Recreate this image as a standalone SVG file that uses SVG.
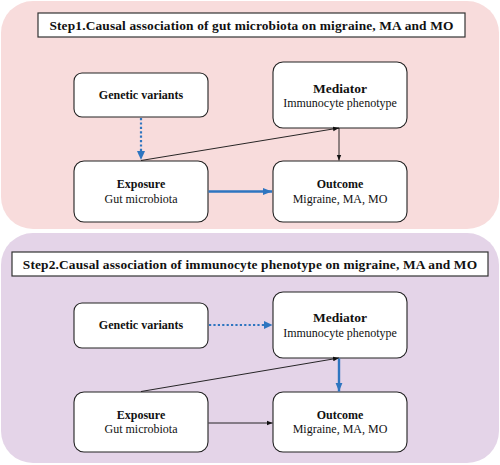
<svg xmlns="http://www.w3.org/2000/svg" width="500" height="465" viewBox="0 0 500 465">
<defs>
<style>
.panel1{fill:#f8dcdc;}
.panel2{fill:#e4d4e8;}
.title{fill:#fff;stroke:#333;stroke-width:1.2;}
.node{fill:#fff;stroke:#222;stroke-width:1.1;}
text{font-family:"Liberation Serif","Times New Roman",serif;fill:#111;text-anchor:middle;}
.tt{font-weight:bold;font-size:13.4px;letter-spacing:0.15px;}
.b{font-weight:bold;font-size:12px;}
.bl{font-weight:bold;font-size:13.5px;}
.r{font-size:12px;}
.thin{stroke:#111;stroke-width:0.9;fill:none;}
.blue{stroke:#2e75c0;stroke-width:2.4;fill:none;}
.dot{stroke:#2e75c0;stroke-width:2.2;stroke-dasharray:2.2 2.2;fill:none;}
</style>
<marker id="ak" viewBox="0 0 10 10" refX="10" refY="5" markerWidth="6" markerHeight="6" markerUnits="userSpaceOnUse" orient="auto"><path d="M0,1 L10,5 L0,9 z" fill="#111"/></marker>
<marker id="ab" viewBox="0 0 10 10" refX="10" refY="5" markerWidth="9" markerHeight="9" markerUnits="userSpaceOnUse" orient="auto"><path d="M0,1 L10,5 L0,9 z" fill="#2e75c0"/></marker>
</defs>
<g id="panel1">
<rect class="panel1" x="1" y="1" width="498" height="228" rx="32"/>
<rect class="title" x="38" y="13" width="427" height="24"/>
<text class="tt" x="251.5" y="29.5">Step1.Causal association of gut microbiota on migraine, MA and MO</text>
</g>
<g id="panel2">
<rect class="panel2" x="1" y="233" width="498" height="230" rx="32"/>
<rect class="title" x="12" y="252" width="476" height="24"/>
<text class="tt" x="250" y="268.5">Step2.Causal association of immunocyte phenotype on migraine, MA and MO</text>
</g>
<g id="s1-genetic"><rect class="node" x="74" y="73" width="134" height="44" rx="8"/><text class="b" x="141" y="99">Genetic variants</text></g>
<g id="s1-mediator"><rect class="node" x="273" y="62" width="134" height="66" rx="10"/><text class="bl" x="340" y="93">Mediator</text><text class="r" x="340" y="107">Immunocyte phenotype</text></g>
<g id="s1-exposure"><rect class="node" x="74" y="161" width="134" height="61" rx="10"/><text class="b" x="141" y="188">Exposure</text><text class="r" x="141" y="203">Gut microbiota</text></g>
<g id="s1-outcome"><rect class="node" x="273" y="161" width="134" height="61" rx="10"/><text class="b" x="340" y="188">Outcome</text><text class="r" x="340" y="203">Migraine, MA, MO</text></g>
<g id="s2-genetic"><rect class="node" x="74" y="303" width="134" height="45" rx="8"/><text class="b" x="141" y="329">Genetic variants</text></g>
<g id="s2-mediator"><rect class="node" x="273" y="292" width="134" height="66" rx="10"/><text class="bl" x="340" y="322">Mediator</text><text class="r" x="340" y="337">Immunocyte phenotype</text></g>
<g id="s2-exposure"><rect class="node" x="74" y="392" width="134" height="60" rx="10"/><text class="b" x="141" y="419">Exposure</text><text class="r" x="141" y="433">Gut microbiota</text></g>
<g id="s2-outcome"><rect class="node" x="273" y="392" width="134" height="60" rx="10"/><text class="b" x="340" y="419">Outcome</text><text class="r" x="340" y="433">Migraine, MA, MO</text></g>
<g id="connectors">
<path class="dot" d="M141,118 V151"/>
<path d="M137,151 L145,151 L141,160 z" fill="#2e75c0"/>
<path class="thin" d="M141,160.5 L339,128" marker-end="url(#ak)"/>
<path class="thin" d="M339,128 V160.5" marker-end="url(#ak)"/>
<path class="blue" d="M208.5,191.5 H272" marker-end="url(#ab)"/>
<path class="dot" d="M209,325 H264"/>
<path d="M264,321 L264,329 L272.5,325 z" fill="#2e75c0"/>
<path class="thin" d="M141,391.5 L339,358" marker-end="url(#ak)"/>
<path class="blue" d="M339,358.5 V391.5" marker-end="url(#ab)"/>
<path class="thin" d="M208.5,423 H272.5" marker-end="url(#ak)"/>
</g>
</svg>
